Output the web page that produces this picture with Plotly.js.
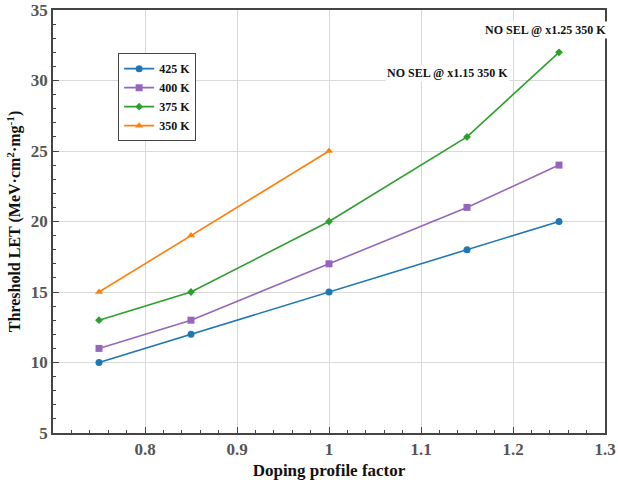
<!DOCTYPE html>
<html><head><meta charset="utf-8">
<script src="https://cdn.plot.ly/plotly-3.0.1.min.js"></script>
<style>body{margin:0;padding:0;}#chart{width:618px;height:480px;}</style>
</head><body><div id="chart"></div>
<script>
const xFull = [0.75, 0.85, 1.0, 1.15, 1.25];
const x350 = [0.75, 0.85, 1.0];
const let425 = [10, 12, 15, 18, 20];
const let400 = [11, 13, 17, 21, 24];
const let375 = [13, 15, 20, 26, 32];
const let350 = [15, 19, 25];
const seriesNames = ['425 K', '400 K', '375 K', '350 K'];
const noteTexts = ['NO SEL @ x1.25 350 K', 'NO SEL @ x1.15 350 K'];
const xTickVals = [0.8, 0.9, 1.0, 1.1, 1.2, 1.3];
const xTickLabels = ['0.8', '0.9', '1', '1.1', '1.2', '1.3'];
const yTickVals = [5, 10, 15, 20, 25, 30, 35];
const yTickLabels = ['5', '10', '15', '20', '25', '30', '35'];

const F = '"Liberation Serif", "Times New Roman", serif';
const bold = a => a.map(s => '<b>' + s + '</b>');
const traces = [
  {x: xFull, y: let425, name: '<b>' + seriesNames[0] + '</b>', mode: 'lines+markers', line: {color: '#1f77b4', width: 1.6}, marker: {symbol: 'circle', size: 7, color: '#1f77b4'}},
  {x: xFull, y: let400, name: '<b>' + seriesNames[1] + '</b>', mode: 'lines+markers', line: {color: '#9467bd', width: 1.6}, marker: {symbol: 'square', size: 7, color: '#9467bd'}},
  {x: xFull, y: let375, name: '<b>' + seriesNames[2] + '</b>', mode: 'lines+markers', line: {color: '#2ca02c', width: 1.6}, marker: {symbol: 'diamond', size: 6, color: '#2ca02c'}},
  {x: x350, y: let350, name: '<b>' + seriesNames[3] + '</b>', mode: 'lines+markers', line: {color: '#ff7f0e', width: 1.6}, marker: {symbol: 'triangle-up', size: 7, color: '#ff7f0e'}}
];
const axisCommon = {
  showline: true, mirror: true, linecolor: '#444', linewidth: 1.5,
  showgrid: true, gridcolor: '#d9d9d9', gridwidth: 1,
  ticks: 'inside', ticklen: 6, tickcolor: '#444', zeroline: false,
  tickmode: 'array',
  tickfont: {family: F, size: 17, color: '#555'}
};
const layout = {
  width: 618, height: 480,
  margin: {l: 53, r: 13, t: 10, b: 47},
  paper_bgcolor: '#fff', plot_bgcolor: '#fff',
  font: {family: F},
  xaxis: Object.assign({}, axisCommon, {
    range: [0.7, 1.3], tickvals: xTickVals, ticktext: bold(xTickLabels),
    minor: {tickmode: 'linear', tick0: 0.7, dtick: 0.02, ticks: 'inside', ticklen: 3, tickcolor: '#444', showgrid: false},
    title: {text: '<b>Doping profile factor</b>', font: {family: F, size: 17, color: '#111'}, standoff: 8}
  }),
  yaxis: Object.assign({}, axisCommon, {
    range: [5, 35], tickvals: yTickVals, ticktext: bold(yTickLabels),
    minor: {tickmode: 'linear', tick0: 5, dtick: 1, ticks: 'inside', ticklen: 3, tickcolor: '#444', showgrid: false},
    title: {text: '<b>Threshold LET (MeV·cm<sup>2</sup>·mg<sup>-1</sup>)</b>', font: {family: F, size: 16, color: '#111'}, standoff: 6}
  }),
  showlegend: true,
  legend: {x: 0.118, y: 0.898, xanchor: 'left', yanchor: 'top', bgcolor: '#fff', bordercolor: '#444', borderwidth: 1,
    font: {family: F, size: 12, color: '#111'}, tracegroupgap: 0, itemwidth: 30},
  annotations: [
    {x: 1.235, y: 33.6, xref: 'x', yref: 'y', text: '<b>' + noteTexts[0] + '</b>', showarrow: false, bgcolor: '#fff', font: {family: F, size: 12, color: '#111'}},
    {x: 1.129, y: 30.5, xref: 'x', yref: 'y', text: '<b>' + noteTexts[1] + '</b>', showarrow: false, bgcolor: '#fff', font: {family: F, size: 12, color: '#111'}}
  ]
};
Plotly.newPlot('chart', traces, layout, {displayModeBar: false});
</script></body></html>
